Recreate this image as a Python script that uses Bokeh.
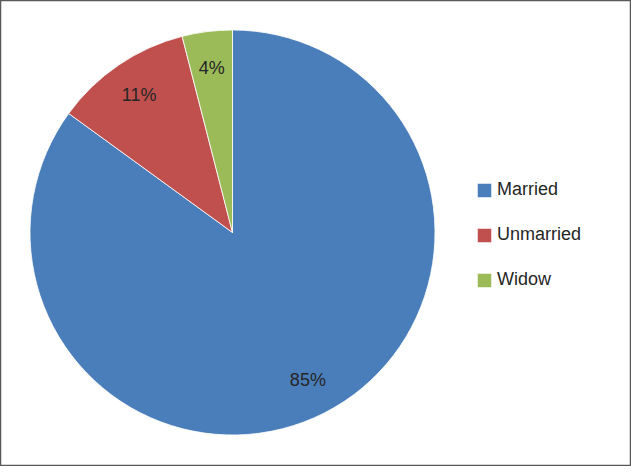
import math
from bokeh.plotting import figure
from bokeh.models import Range1d, ColumnDataSource, Legend, LegendItem
from bokeh.core.properties import value
from bokeh.embed import file_html
from bokeh.resources import INLINE

categories = ["Married", "Unmarried", "Widow"]
shares = [85, 11, 4]
labels = ["85%", "11%", "4%"]
colors = ["#4A7EBB", "#C0504D", "#9BBB59"]

W, H = 631, 466
cx, cy, r = 232, 234, 202.5   # centre in plot units (px from frame left / bottom)

total = sum(shares)
starts, ends, lx, ly = [], [], [], []
a = math.pi / 2
for s in shares:
    span = 2 * math.pi * s / total
    starts.append(a)
    ends.append(a - span)
    mid = a - span / 2
    lx.append(cx + 0.82 * r * math.cos(mid))
    ly.append(cy + 0.82 * r * math.sin(mid))
    a -= span

src = ColumnDataSource(dict(cat=categories, start=starts, end=ends, color=colors,
                            lx=lx, ly=ly, lab=labels))

p = figure(width=W, height=H, output_backend="svg", toolbar_location=None,
           x_range=Range1d(0, W), y_range=Range1d(0, H), min_border=0)
p.axis.visible = False
p.grid.visible = False
p.outline_line_color = "#595959"
p.outline_line_width = 1.5
p.background_fill_color = "white"
p.border_fill_color = "white"

w = p.wedge(x=cx, y=cy, radius=r, start_angle="start", end_angle="end",
            direction="clock", fill_color="color", line_color="white",
            line_width=0.8, source=src)

p.text(x="lx", y="ly", text="lab", source=src, text_align="center",
       text_baseline="middle", text_font=value("Liberation Sans"),
       text_font_size="18px", text_color="#262626")

items = [LegendItem(label=c, renderers=[w], index=i) for i, c in enumerate(categories)]
legend = Legend(items=items, location=(475, 176), orientation="vertical",
                glyph_width=18, glyph_height=18, label_height=20, spacing=24,
                label_standoff=4, padding=0, margin=0,
                border_line_color=None, background_fill_alpha=0,
                label_text_font="Liberation Sans", label_text_font_size="18px",
                label_text_color="#262626")
p.add_layout(legend)

open("out.html", "w").write(file_html(p, INLINE))
